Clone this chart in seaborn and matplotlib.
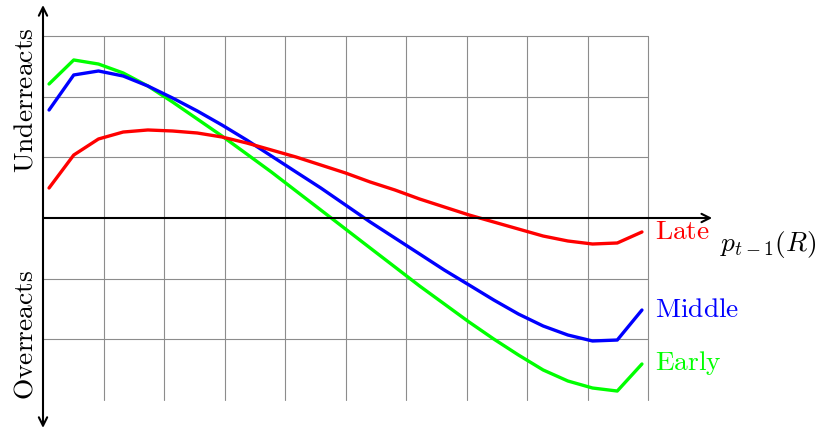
import numpy as np
import pandas as pd
import matplotlib
matplotlib.use("Agg")
import matplotlib.pyplot as plt
import seaborn as sns

# x positions of the polyline vertices (grid units, 0..10)
x_vals = [0.100, 0.508, 0.917, 1.325, 1.733, 2.142, 2.550, 2.958, 3.367, 3.775,
          4.183, 4.592, 5.000, 5.408, 5.817, 6.225, 6.633, 7.042, 7.450, 7.858,
          8.267, 8.675, 9.083, 9.492, 9.900]

early = [2.215, 2.612, 2.545, 2.397, 2.182, 1.917, 1.636, 1.355, 1.058, 0.760,
         0.446, 0.132, -0.182, -0.496, -0.810, -1.124, -1.421, -1.719, -2.000, -2.264,
         -2.512, -2.694, -2.810, -2.860, -2.413]
middle = [1.785, 2.364, 2.430, 2.347, 2.182, 1.983, 1.769, 1.537, 1.289, 1.025,
          0.760, 0.496, 0.215, -0.066, -0.331, -0.595, -0.860, -1.107, -1.355, -1.587,
          -1.785, -1.934, -2.033, -2.017, -1.521]
late = [0.496, 1.041, 1.306, 1.421, 1.455, 1.438, 1.405, 1.339, 1.240, 1.124,
        1.008, 0.876, 0.744, 0.595, 0.463, 0.314, 0.182, 0.050, -0.066, -0.182,
        -0.298, -0.380, -0.430, -0.413, -0.231]

series_names = ["Early", "Middle", "Late"]
series_colors = {"Early": "#00ff00", "Middle": "#0000ff", "Late": "#ff0000"}

df = pd.DataFrame({
    "x": x_vals * 3,
    "y": early + middle + late,
    "series": ["Early"] * len(x_vals) + ["Middle"] * len(x_vals) + ["Late"] * len(x_vals),
})

sns.set_theme(style="white")
plt.rcParams["mathtext.fontset"] = "cm"
plt.rcParams["font.family"] = ["DejaVu Serif"]

fig = plt.figure(figsize=(8.19, 4.34), dpi=100)
ax = fig.add_axes([0, 0, 1, 1])
ax.set_xlim(-43 / 60.5, (819 - 43) / 60.5)
ax.set_ylim((218 - 434) / 60.5, 218 / 60.5)
ax.axis("off")

# grid
for gx in range(1, 11):
    ax.plot([gx, gx], [-3, 3], color="#8c8c8c", lw=0.8, zorder=1)
for gy in [-2, -1, 1, 2, 3]:
    ax.plot([0, 10], [gy, gy], color="#8c8c8c", lw=0.8, zorder=1)

# curves
sns.lineplot(data=df, x="x", y="y", hue="series", palette=series_colors,
             hue_order=series_names, sort=False, estimator=None, lw=2.4,
             legend=False, ax=ax, zorder=3)

# axes arrows
ax.annotate("", xy=(11.06, 0), xytext=(0, 0),
            arrowprops=dict(arrowstyle="->,head_length=0.5,head_width=0.25", lw=1.5, color="black",
                            shrinkA=0, shrinkB=0), zorder=4)
ax.annotate("", xy=(0, 3.52), xytext=(0, -3.47),
            arrowprops=dict(arrowstyle="<->,head_length=0.5,head_width=0.25", lw=1.5, color="black",
                            shrinkA=0, shrinkB=0), zorder=4)

fs = 19.8
ax.text(10.12, -0.23, r"$\mathrm{Late}$", color="#ff0000", fontsize=fs, va="center", ha="left")
ax.text(10.12, -1.52, r"$\mathrm{Middle}$", color="#0000ff", fontsize=fs, va="center", ha="left")
ax.text(10.12, -2.40, r"$\mathrm{Early}$", color="#00ff00", fontsize=fs, va="center", ha="left")
ax.text(11.19, -0.44, r"$p_{t-1}(R)$", color="black", fontsize=fs, va="center", ha="left")
ax.text(-0.30, 1.95, r"$\mathrm{Underreacts}$", color="black", fontsize=fs, va="center",
        ha="center", rotation=90)
ax.text(-0.30, -1.93, r"$\mathrm{Overreacts}$", color="black", fontsize=fs, va="center",
        ha="center", rotation=90)

fig.savefig("out.png", dpi=100)
